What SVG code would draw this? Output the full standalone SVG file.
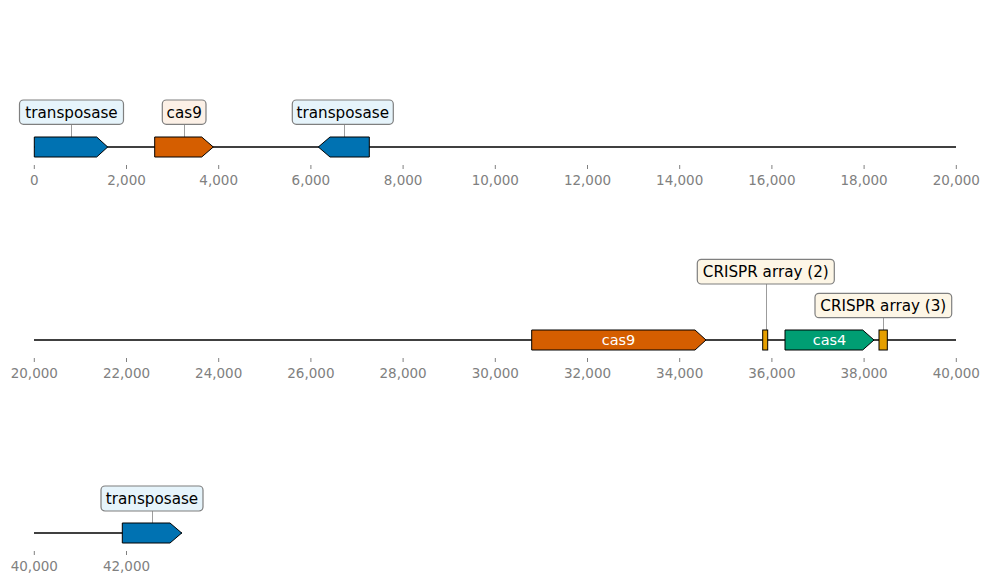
<svg xmlns="http://www.w3.org/2000/svg" width="989" height="584" viewBox="0 0 989 584">
<style>
.axis{stroke:#000;stroke-width:1.5;fill:none}
.tick{stroke:#808080;stroke-width:1}
.tl{font-family:"DejaVu Sans",sans-serif;font-size:13.5px;fill:#808080;text-anchor:middle}
.feat{stroke:#000;stroke-width:1}
.lbl{stroke:#7f7f7f;stroke-width:1.2}
.lt{font-family:"DejaVu Sans",sans-serif;font-size:15.2px;fill:#000;text-anchor:middle}
.it{font-family:"DejaVu Sans",sans-serif;font-size:14.5px;fill:#fff;text-anchor:middle}
.conn{stroke:#000;stroke-width:0.6;opacity:0.8}
.tp{fill:#0072B2}.c9{fill:#D55E00}.cr{fill:#E69F00}.c4{fill:#009E73}
.btp{fill:#e6f4fb}.bc9{fill:#fcf0e6}.bcr{fill:#fdf6e6}
</style>
<g id="axes">
<line class="axis" x1="34" y1="147" x2="956" y2="147"/>
<line class="axis" x1="34" y1="340" x2="956" y2="340"/>
<line class="axis" x1="34" y1="533" x2="182" y2="533"/>
<g id="ticks1">
<line class="tick" x1="34.3" y1="165" x2="34.3" y2="169"/><text class="tl" x="34.3" y="185">0</text>
<line class="tick" x1="126.5" y1="165" x2="126.5" y2="169"/><text class="tl" x="126.5" y="185">2,000</text>
<line class="tick" x1="218.7" y1="165" x2="218.7" y2="169"/><text class="tl" x="218.7" y="185">4,000</text>
<line class="tick" x1="310.9" y1="165" x2="310.9" y2="169"/><text class="tl" x="310.9" y="185">6,000</text>
<line class="tick" x1="403.1" y1="165" x2="403.1" y2="169"/><text class="tl" x="403.1" y="185">8,000</text>
<line class="tick" x1="495.3" y1="165" x2="495.3" y2="169"/><text class="tl" x="495.3" y="185">10,000</text>
<line class="tick" x1="587.5" y1="165" x2="587.5" y2="169"/><text class="tl" x="587.5" y="185">12,000</text>
<line class="tick" x1="679.7" y1="165" x2="679.7" y2="169"/><text class="tl" x="679.7" y="185">14,000</text>
<line class="tick" x1="771.9" y1="165" x2="771.9" y2="169"/><text class="tl" x="771.9" y="185">16,000</text>
<line class="tick" x1="864.1" y1="165" x2="864.1" y2="169"/><text class="tl" x="864.1" y="185">18,000</text>
<line class="tick" x1="956.3" y1="165" x2="956.3" y2="169"/><text class="tl" x="956.3" y="185">20,000</text>
</g>
<g id="ticks2">
<line class="tick" x1="34.3" y1="358" x2="34.3" y2="362"/><text class="tl" x="34.3" y="378">20,000</text>
<line class="tick" x1="126.5" y1="358" x2="126.5" y2="362"/><text class="tl" x="126.5" y="378">22,000</text>
<line class="tick" x1="218.7" y1="358" x2="218.7" y2="362"/><text class="tl" x="218.7" y="378">24,000</text>
<line class="tick" x1="310.9" y1="358" x2="310.9" y2="362"/><text class="tl" x="310.9" y="378">26,000</text>
<line class="tick" x1="403.1" y1="358" x2="403.1" y2="362"/><text class="tl" x="403.1" y="378">28,000</text>
<line class="tick" x1="495.3" y1="358" x2="495.3" y2="362"/><text class="tl" x="495.3" y="378">30,000</text>
<line class="tick" x1="587.5" y1="358" x2="587.5" y2="362"/><text class="tl" x="587.5" y="378">32,000</text>
<line class="tick" x1="679.7" y1="358" x2="679.7" y2="362"/><text class="tl" x="679.7" y="378">34,000</text>
<line class="tick" x1="771.9" y1="358" x2="771.9" y2="362"/><text class="tl" x="771.9" y="378">36,000</text>
<line class="tick" x1="864.1" y1="358" x2="864.1" y2="362"/><text class="tl" x="864.1" y="378">38,000</text>
<line class="tick" x1="956.3" y1="358" x2="956.3" y2="362"/><text class="tl" x="956.3" y="378">40,000</text>
</g>
<g id="ticks3">
<line class="tick" x1="34.3" y1="551" x2="34.3" y2="555"/><text class="tl" x="34.3" y="571">40,000</text>
<line class="tick" x1="126.5" y1="551" x2="126.5" y2="555"/><text class="tl" x="126.5" y="571">42,000</text>
</g>
</g>
<g id="connectors">
<line class="conn" x1="71.7" y1="124" x2="71.7" y2="137"/>
<line class="conn" x1="184.3" y1="124" x2="184.3" y2="137"/>
<line class="conn" x1="344.3" y1="124" x2="344.3" y2="137"/>
<line class="conn" x1="766.7" y1="284" x2="766.7" y2="330"/>
<line class="conn" x1="883.3" y1="318" x2="883.3" y2="330"/>
<line class="conn" x1="152.3" y1="511" x2="152.3" y2="523"/>
</g>
<g id="f-transposase-1">
<path class="feat tp" d="M34.3,137 H96.7 L107.7,147 L96.7,157 H34.3 Z"/>
<rect class="lbl btp" x="19.5" y="100" width="104" height="24.3" rx="4"/>
<text class="lt" x="71.5" y="117.5">transposase</text>
</g>
<g id="f-cas9-1">
<path class="feat c9" d="M154.7,137 H201.7 L213.3,147 L201.7,157 H154.7 Z"/>
<rect class="lbl bc9" x="162.3" y="100" width="43.7" height="24.3" rx="4"/>
<text class="lt" x="184.2" y="117.5">cas9</text>
</g>
<g id="f-transposase-2">
<path class="feat tp" d="M369.3,137 H330 L318.3,147 L330,157 H369.3 Z"/>
<rect class="lbl btp" x="292.3" y="100" width="101" height="24.3" rx="4"/>
<text class="lt" x="342.8" y="117.5">transposase</text>
</g>
<g id="f-cas9-2">
<path class="feat c9" d="M531.7,330 H695 L706,340 L695,350 H531.7 Z"/>
<text class="it" x="618.5" y="345">cas9</text>
</g>
<g id="f-crispr-2">
<rect class="feat cr" x="762.7" y="330" width="5" height="20"/>
<rect class="lbl bcr" x="697.3" y="259.3" width="137" height="24.7" rx="4"/>
<text class="lt" x="765.8" y="277">CRISPR array (2)</text>
</g>
<g id="f-cas4">
<path class="feat c4" d="M785,330 H862.7 L874,340 L862.7,350 H785 Z"/>
<text class="it" x="829.5" y="345">cas4</text>
</g>
<g id="f-crispr-3">
<rect class="feat cr" x="879" y="330" width="8.3" height="20"/>
<rect class="lbl bcr" x="815" y="293.3" width="136.7" height="24.4" rx="4"/>
<text class="lt" x="883.3" y="311">CRISPR array (3)</text>
</g>
<g id="f-transposase-3">
<path class="feat tp" d="M122.3,523 H170 L181.7,533 L170,543 H122.3 Z"/>
<rect class="lbl btp" x="101" y="486" width="102" height="25" rx="4"/>
<text class="lt" x="152" y="503.5">transposase</text>
</g>
</svg>
